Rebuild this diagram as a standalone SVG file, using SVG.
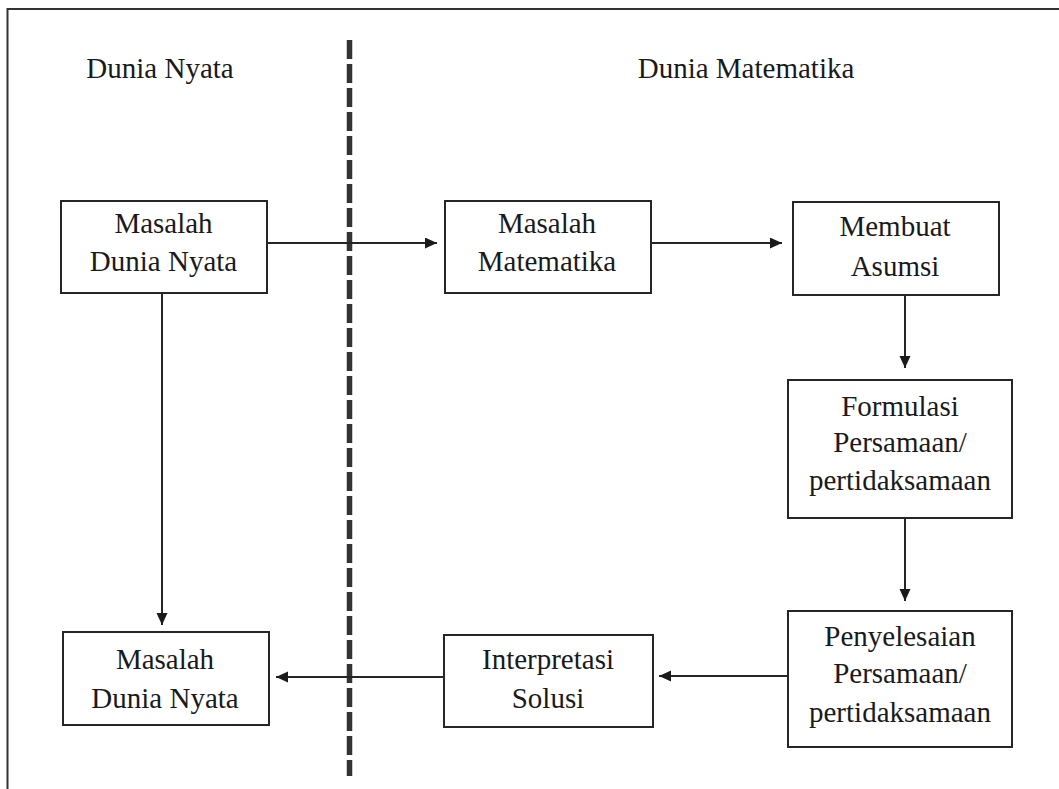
<svg xmlns="http://www.w3.org/2000/svg" width="1059" height="789" viewBox="0 0 1059 789">
  <style>
    .box { fill: #ffffff; stroke: #262626; stroke-width: 2; }
    .lbl { font-family: "Liberation Serif", "Times New Roman", serif; font-size: 29px; fill: #1a1a1a; text-anchor: middle; }
    .con { stroke: #262626; stroke-width: 2; fill: none; marker-end: url(#arr); }
    .frame { stroke: #333333; stroke-width: 2; fill: none; }
  </style>
  <defs>
    <marker id="arr" markerUnits="userSpaceOnUse" markerWidth="13" markerHeight="12" refX="12" refY="5.5" orient="auto">
      <path d="M0,0 L12,5.5 L0,11 z" fill="#1a1a1a"/>
    </marker>
  </defs>
  <rect width="1059" height="789" fill="#ffffff"/>
  <g id="frame">
    <path class="frame" d="M7.5,789 L7.5,9 L1059,9"/>
    <line x1="349.5" y1="40" x2="349.5" y2="776" stroke="#333333" stroke-width="5.5" stroke-dasharray="19 5"/>
  </g>
  <g id="headers">
    <text class="lbl" x="160" y="78">Dunia Nyata</text>
    <text class="lbl" x="746" y="78">Dunia Matematika</text>
  </g>
  <g id="connectors">
    <line class="con" x1="267" y1="243" x2="437" y2="243"/>
    <line class="con" x1="651" y1="243" x2="782" y2="243"/>
    <line class="con" x1="905" y1="295" x2="905" y2="368"/>
    <line class="con" x1="905" y1="518" x2="905" y2="601"/>
    <line class="con" x1="788" y1="676" x2="659" y2="676"/>
    <line class="con" x1="444" y1="677" x2="276" y2="677"/>
    <line class="con" x1="162" y1="293" x2="162" y2="625"/>
  </g>
  <g id="node-masalah-dunia-nyata-1">
    <rect class="box" x="61" y="201" width="206" height="92"/>
    <text class="lbl" x="163.5" y="233">Masalah</text>
    <text class="lbl" x="163.5" y="271">Dunia Nyata</text>
  </g>
  <g id="node-masalah-matematika">
    <rect class="box" x="445" y="201" width="206" height="92"/>
    <text class="lbl" x="547" y="233">Masalah</text>
    <text class="lbl" x="547" y="271">Matematika</text>
  </g>
  <g id="node-membuat-asumsi">
    <rect class="box" x="793" y="202" width="206" height="93"/>
    <text class="lbl" x="895" y="236">Membuat</text>
    <text class="lbl" x="895" y="276">Asumsi</text>
  </g>
  <g id="node-formulasi">
    <rect class="box" x="788" y="380" width="224" height="138"/>
    <text class="lbl" x="900" y="416">Formulasi</text>
    <text class="lbl" x="900" y="452">Persamaan/</text>
    <text class="lbl" x="900" y="490">pertidaksamaan</text>
  </g>
  <g id="node-penyelesaian">
    <rect class="box" x="788" y="611" width="224" height="136"/>
    <text class="lbl" x="900" y="646">Penyelesaian</text>
    <text class="lbl" x="900" y="683">Persamaan/</text>
    <text class="lbl" x="900" y="722">pertidaksamaan</text>
  </g>
  <g id="node-interpretasi">
    <rect class="box" x="444" y="635" width="209" height="92"/>
    <text class="lbl" x="548" y="669">Interpretasi</text>
    <text class="lbl" x="548" y="708">Solusi</text>
  </g>
  <g id="node-masalah-dunia-nyata-2">
    <rect class="box" x="63" y="632" width="206" height="93"/>
    <text class="lbl" x="165" y="669">Masalah</text>
    <text class="lbl" x="165" y="708">Dunia Nyata</text>
  </g>
</svg>
